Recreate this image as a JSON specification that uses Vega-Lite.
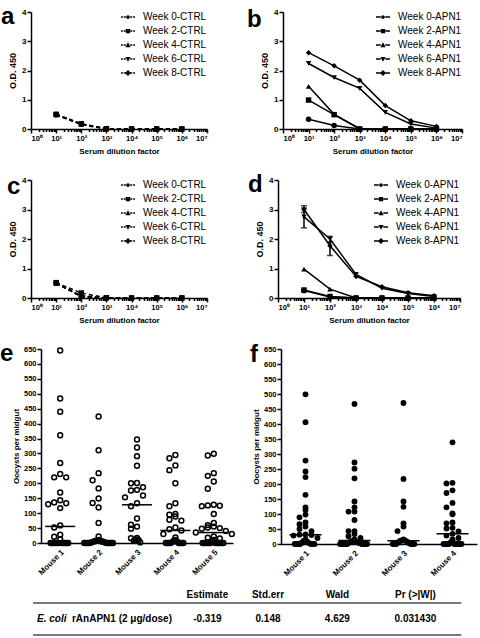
{
  "$schema": "https://vega.github.io/schema/vega-lite/v6.json",
  "padding": {"left": 0, "top": 5, "right": 0, "bottom": 0},
  "columns": 2,
  "align": "none",
  "bounds": "flush",
  "spacing": {"column": 76, "row": 51},
  "datasets": {
    "a": [
      {"week": "Week 0-CTRL", "dil": 10, "od": 0.49}, {"week": "Week 0-CTRL", "dil": 100, "od": 0.17}, {"week": "Week 0-CTRL", "dil": 1000, "od": 0.01}, {"week": "Week 0-CTRL", "dil": 10000, "od": 0}, {"week": "Week 0-CTRL", "dil": 100000, "od": 0}, {"week": "Week 0-CTRL", "dil": 1000000, "od": 0},
      {"week": "Week 2-CTRL", "dil": 10, "od": 0.5}, {"week": "Week 2-CTRL", "dil": 100, "od": 0.18}, {"week": "Week 2-CTRL", "dil": 1000, "od": 0.01}, {"week": "Week 2-CTRL", "dil": 10000, "od": 0}, {"week": "Week 2-CTRL", "dil": 100000, "od": 0}, {"week": "Week 2-CTRL", "dil": 1000000, "od": 0},
      {"week": "Week 4-CTRL", "dil": 10, "od": 0.48}, {"week": "Week 4-CTRL", "dil": 100, "od": 0.16}, {"week": "Week 4-CTRL", "dil": 1000, "od": 0}, {"week": "Week 4-CTRL", "dil": 10000, "od": 0}, {"week": "Week 4-CTRL", "dil": 100000, "od": 0}, {"week": "Week 4-CTRL", "dil": 1000000, "od": 0},
      {"week": "Week 6-CTRL", "dil": 10, "od": 0.49}, {"week": "Week 6-CTRL", "dil": 100, "od": 0.15}, {"week": "Week 6-CTRL", "dil": 1000, "od": 0}, {"week": "Week 6-CTRL", "dil": 10000, "od": 0}, {"week": "Week 6-CTRL", "dil": 100000, "od": 0}, {"week": "Week 6-CTRL", "dil": 1000000, "od": 0},
      {"week": "Week 8-CTRL", "dil": 10, "od": 0.51}, {"week": "Week 8-CTRL", "dil": 100, "od": 0.17}, {"week": "Week 8-CTRL", "dil": 1000, "od": 0.01}, {"week": "Week 8-CTRL", "dil": 10000, "od": 0}, {"week": "Week 8-CTRL", "dil": 100000, "od": 0}, {"week": "Week 8-CTRL", "dil": 1000000, "od": 0}
    ],
    "b": [
      {"week": "Week 0-APN1", "dil": 10, "od": 0.33}, {"week": "Week 0-APN1", "dil": 100, "od": 0.12}, {"week": "Week 0-APN1", "dil": 1000, "od": 0}, {"week": "Week 0-APN1", "dil": 10000, "od": 0}, {"week": "Week 0-APN1", "dil": 100000, "od": 0}, {"week": "Week 0-APN1", "dil": 1000000, "od": 0},
      {"week": "Week 2-APN1", "dil": 10, "od": 0.99}, {"week": "Week 2-APN1", "dil": 100, "od": 0.49}, {"week": "Week 2-APN1", "dil": 1000, "od": 0}, {"week": "Week 2-APN1", "dil": 10000, "od": 0}, {"week": "Week 2-APN1", "dil": 100000, "od": 0}, {"week": "Week 2-APN1", "dil": 1000000, "od": 0},
      {"week": "Week 4-APN1", "dil": 10, "od": 1.46}, {"week": "Week 4-APN1", "dil": 100, "od": 0.5}, {"week": "Week 4-APN1", "dil": 1000, "od": 0.01}, {"week": "Week 4-APN1", "dil": 10000, "od": 0}, {"week": "Week 4-APN1", "dil": 100000, "od": 0}, {"week": "Week 4-APN1", "dil": 1000000, "od": 0},
      {"week": "Week 6-APN1", "dil": 10, "od": 2.24}, {"week": "Week 6-APN1", "dil": 100, "od": 1.76}, {"week": "Week 6-APN1", "dil": 1000, "od": 1.39}, {"week": "Week 6-APN1", "dil": 10000, "od": 0.57}, {"week": "Week 6-APN1", "dil": 100000, "od": 0.17}, {"week": "Week 6-APN1", "dil": 1000000, "od": 0.03},
      {"week": "Week 8-APN1", "dil": 10, "od": 2.61}, {"week": "Week 8-APN1", "dil": 100, "od": 2.16}, {"week": "Week 8-APN1", "dil": 1000, "od": 1.67}, {"week": "Week 8-APN1", "dil": 10000, "od": 0.8}, {"week": "Week 8-APN1", "dil": 100000, "od": 0.28}, {"week": "Week 8-APN1", "dil": 1000000, "od": 0.09}
    ],
    "c": [
      {"week": "Week 0-CTRL", "dil": 10, "od": 0.5}, {"week": "Week 0-CTRL", "dil": 100, "od": 0.05}, {"week": "Week 0-CTRL", "dil": 1000, "od": 0}, {"week": "Week 0-CTRL", "dil": 10000, "od": 0}, {"week": "Week 0-CTRL", "dil": 100000, "od": 0}, {"week": "Week 0-CTRL", "dil": 1000000, "od": 0},
      {"week": "Week 2-CTRL", "dil": 10, "od": 0.52}, {"week": "Week 2-CTRL", "dil": 100, "od": 0.17}, {"week": "Week 2-CTRL", "dil": 1000, "od": 0.01}, {"week": "Week 2-CTRL", "dil": 10000, "od": 0}, {"week": "Week 2-CTRL", "dil": 100000, "od": 0}, {"week": "Week 2-CTRL", "dil": 1000000, "od": 0},
      {"week": "Week 4-CTRL", "dil": 10, "od": 0.5}, {"week": "Week 4-CTRL", "dil": 100, "od": 0.08}, {"week": "Week 4-CTRL", "dil": 1000, "od": 0}, {"week": "Week 4-CTRL", "dil": 10000, "od": 0}, {"week": "Week 4-CTRL", "dil": 100000, "od": 0}, {"week": "Week 4-CTRL", "dil": 1000000, "od": 0},
      {"week": "Week 6-CTRL", "dil": 10, "od": 0.49}, {"week": "Week 6-CTRL", "dil": 100, "od": 0.06}, {"week": "Week 6-CTRL", "dil": 1000, "od": 0}, {"week": "Week 6-CTRL", "dil": 10000, "od": 0}, {"week": "Week 6-CTRL", "dil": 100000, "od": 0}, {"week": "Week 6-CTRL", "dil": 1000000, "od": 0},
      {"week": "Week 8-CTRL", "dil": 10, "od": 0.53}, {"week": "Week 8-CTRL", "dil": 100, "od": 0.04}, {"week": "Week 8-CTRL", "dil": 1000, "od": 0}, {"week": "Week 8-CTRL", "dil": 10000, "od": 0}, {"week": "Week 8-CTRL", "dil": 100000, "od": 0}, {"week": "Week 8-CTRL", "dil": 1000000, "od": 0}
    ],
    "d": [
      {"week": "Week 0-APN1", "dil": 10, "od": 0.25}, {"week": "Week 0-APN1", "dil": 100, "od": 0.03}, {"week": "Week 0-APN1", "dil": 1000, "od": 0}, {"week": "Week 0-APN1", "dil": 10000, "od": 0}, {"week": "Week 0-APN1", "dil": 100000, "od": 0}, {"week": "Week 0-APN1", "dil": 1000000, "od": 0},
      {"week": "Week 2-APN1", "dil": 10, "od": 0.27}, {"week": "Week 2-APN1", "dil": 100, "od": 0.05}, {"week": "Week 2-APN1", "dil": 1000, "od": 0}, {"week": "Week 2-APN1", "dil": 10000, "od": 0}, {"week": "Week 2-APN1", "dil": 100000, "od": 0}, {"week": "Week 2-APN1", "dil": 1000000, "od": 0},
      {"week": "Week 4-APN1", "dil": 10, "od": 0.98}, {"week": "Week 4-APN1", "dil": 100, "od": 0.3}, {"week": "Week 4-APN1", "dil": 1000, "od": 0}, {"week": "Week 4-APN1", "dil": 10000, "od": 0}, {"week": "Week 4-APN1", "dil": 100000, "od": 0}, {"week": "Week 4-APN1", "dil": 1000000, "od": 0},
      {"week": "Week 6-APN1", "dil": 10, "od": 2.75}, {"week": "Week 6-APN1", "dil": 100, "od": 2.0}, {"week": "Week 6-APN1", "dil": 1000, "od": 0.8}, {"week": "Week 6-APN1", "dil": 10000, "od": 0.33}, {"week": "Week 6-APN1", "dil": 100000, "od": 0.15}, {"week": "Week 6-APN1", "dil": 1000000, "od": 0.05},
      {"week": "Week 8-APN1", "dil": 10, "od": 3.0}, {"week": "Week 8-APN1", "dil": 100, "od": 1.77}, {"week": "Week 8-APN1", "dil": 1000, "od": 0.73}, {"week": "Week 8-APN1", "dil": 10000, "od": 0.38}, {"week": "Week 8-APN1", "dil": 100000, "od": 0.18}, {"week": "Week 8-APN1", "dil": 1000000, "od": 0.08}
    ],
    "derr": [
      {"week": "Week 6-APN1", "dil": 10, "od": 2.38, "od2": 3.05},
      {"week": "Week 8-APN1", "dil": 10, "od": 2.9, "od2": 3.13},
      {"week": "Week 6-APN1", "dil": 100, "od": 1.9, "od2": 2.09},
      {"week": "Week 8-APN1", "dil": 100, "od": 1.44, "od2": 1.88}
    ],
    "e": [
      {"m": "Mouse 1", "v": 645}, {"m": "Mouse 1", "v": 484}, {"m": "Mouse 1", "v": 440}, {"m": "Mouse 1", "v": 361}, {"m": "Mouse 1", "v": 268}, {"m": "Mouse 1", "v": 231}, {"m": "Mouse 1", "v": 220}, {"m": "Mouse 1", "v": 220}, {"m": "Mouse 1", "v": 169}, {"m": "Mouse 1", "v": 143}, {"m": "Mouse 1", "v": 136}, {"m": "Mouse 1", "v": 133}, {"m": "Mouse 1", "v": 130}, {"m": "Mouse 1", "v": 117}, {"m": "Mouse 1", "v": 59}, {"m": "Mouse 1", "v": 52}, {"m": "Mouse 1", "v": 28}, {"m": "Mouse 1", "v": 21}, {"m": "Mouse 1", "v": 12},
      {"m": "Mouse 1", "v": 0}, {"m": "Mouse 1", "v": 0}, {"m": "Mouse 1", "v": 0}, {"m": "Mouse 1", "v": 0}, {"m": "Mouse 1", "v": 0}, {"m": "Mouse 1", "v": 0}, {"m": "Mouse 1", "v": 0}, {"m": "Mouse 1", "v": 0}, {"m": "Mouse 1", "v": 0}, {"m": "Mouse 1", "v": 0}, {"m": "Mouse 1", "v": 0},
      {"m": "Mouse 2", "v": 424}, {"m": "Mouse 2", "v": 311}, {"m": "Mouse 2", "v": 234}, {"m": "Mouse 2", "v": 210}, {"m": "Mouse 2", "v": 183}, {"m": "Mouse 2", "v": 149}, {"m": "Mouse 2", "v": 134}, {"m": "Mouse 2", "v": 119}, {"m": "Mouse 2", "v": 67}, {"m": "Mouse 2", "v": 22}, {"m": "Mouse 2", "v": 10}, {"m": "Mouse 2", "v": 8}, {"m": "Mouse 2", "v": 8}, {"m": "Mouse 2", "v": 7}, {"m": "Mouse 2", "v": 5}, {"m": "Mouse 2", "v": 5}, {"m": "Mouse 2", "v": 4}, {"m": "Mouse 2", "v": 3}, {"m": "Mouse 2", "v": 2}, {"m": "Mouse 2", "v": 1},
      {"m": "Mouse 2", "v": 0}, {"m": "Mouse 2", "v": 0}, {"m": "Mouse 2", "v": 0}, {"m": "Mouse 2", "v": 0}, {"m": "Mouse 2", "v": 0}, {"m": "Mouse 2", "v": 0}, {"m": "Mouse 2", "v": 0}, {"m": "Mouse 2", "v": 0}, {"m": "Mouse 2", "v": 0},
      {"m": "Mouse 3", "v": 347}, {"m": "Mouse 3", "v": 320}, {"m": "Mouse 3", "v": 291}, {"m": "Mouse 3", "v": 259}, {"m": "Mouse 3", "v": 201}, {"m": "Mouse 3", "v": 200}, {"m": "Mouse 3", "v": 187}, {"m": "Mouse 3", "v": 178}, {"m": "Mouse 3", "v": 176}, {"m": "Mouse 3", "v": 159}, {"m": "Mouse 3", "v": 153}, {"m": "Mouse 3", "v": 133}, {"m": "Mouse 3", "v": 123}, {"m": "Mouse 3", "v": 82}, {"m": "Mouse 3", "v": 61}, {"m": "Mouse 3", "v": 55}, {"m": "Mouse 3", "v": 48}, {"m": "Mouse 3", "v": 17}, {"m": "Mouse 3", "v": 16}, {"m": "Mouse 3", "v": 12}, {"m": "Mouse 3", "v": 10}, {"m": "Mouse 3", "v": 10}, {"m": "Mouse 3", "v": 8}, {"m": "Mouse 3", "v": 2},
      {"m": "Mouse 4", "v": 295}, {"m": "Mouse 4", "v": 284}, {"m": "Mouse 4", "v": 260}, {"m": "Mouse 4", "v": 244}, {"m": "Mouse 4", "v": 200}, {"m": "Mouse 4", "v": 133}, {"m": "Mouse 4", "v": 123}, {"m": "Mouse 4", "v": 97}, {"m": "Mouse 4", "v": 95}, {"m": "Mouse 4", "v": 89}, {"m": "Mouse 4", "v": 78}, {"m": "Mouse 4", "v": 75}, {"m": "Mouse 4", "v": 52}, {"m": "Mouse 4", "v": 46}, {"m": "Mouse 4", "v": 42}, {"m": "Mouse 4", "v": 30}, {"m": "Mouse 4", "v": 19}, {"m": "Mouse 4", "v": 10}, {"m": "Mouse 4", "v": 8}, {"m": "Mouse 4", "v": 5}, {"m": "Mouse 4", "v": 3},
      {"m": "Mouse 4", "v": 0}, {"m": "Mouse 4", "v": 0}, {"m": "Mouse 4", "v": 0}, {"m": "Mouse 4", "v": 0}, {"m": "Mouse 4", "v": 0}, {"m": "Mouse 4", "v": 0}, {"m": "Mouse 4", "v": 0}, {"m": "Mouse 4", "v": 0},
      {"m": "Mouse 5", "v": 299}, {"m": "Mouse 5", "v": 293}, {"m": "Mouse 5", "v": 234}, {"m": "Mouse 5", "v": 225}, {"m": "Mouse 5", "v": 206}, {"m": "Mouse 5", "v": 182}, {"m": "Mouse 5", "v": 128}, {"m": "Mouse 5", "v": 126}, {"m": "Mouse 5", "v": 125}, {"m": "Mouse 5", "v": 123}, {"m": "Mouse 5", "v": 97}, {"m": "Mouse 5", "v": 67}, {"m": "Mouse 5", "v": 60}, {"m": "Mouse 5", "v": 55}, {"m": "Mouse 5", "v": 52}, {"m": "Mouse 5", "v": 50}, {"m": "Mouse 5", "v": 48}, {"m": "Mouse 5", "v": 40}, {"m": "Mouse 5", "v": 35}, {"m": "Mouse 5", "v": 30}, {"m": "Mouse 5", "v": 22}, {"m": "Mouse 5", "v": 18}, {"m": "Mouse 5", "v": 15}, {"m": "Mouse 5", "v": 10}, {"m": "Mouse 5", "v": 5},
      {"m": "Mouse 5", "v": 0}, {"m": "Mouse 5", "v": 0}, {"m": "Mouse 5", "v": 0}, {"m": "Mouse 5", "v": 0}, {"m": "Mouse 5", "v": 0}, {"m": "Mouse 5", "v": 0}, {"m": "Mouse 5", "v": 0}, {"m": "Mouse 5", "v": 0}, {"m": "Mouse 5", "v": 0}, {"m": "Mouse 5", "v": 0}, {"m": "Mouse 5", "v": 0}, {"m": "Mouse 5", "v": 0}
    ],
    "f": [
      {"m": "Mouse 1", "v": 499}, {"m": "Mouse 1", "v": 406}, {"m": "Mouse 1", "v": 278}, {"m": "Mouse 1", "v": 242}, {"m": "Mouse 1", "v": 223}, {"m": "Mouse 1", "v": 164}, {"m": "Mouse 1", "v": 122}, {"m": "Mouse 1", "v": 113}, {"m": "Mouse 1", "v": 98}, {"m": "Mouse 1", "v": 89}, {"m": "Mouse 1", "v": 72}, {"m": "Mouse 1", "v": 66}, {"m": "Mouse 1", "v": 58}, {"m": "Mouse 1", "v": 50}, {"m": "Mouse 1", "v": 43}, {"m": "Mouse 1", "v": 32}, {"m": "Mouse 1", "v": 31}, {"m": "Mouse 1", "v": 30}, {"m": "Mouse 1", "v": 28}, {"m": "Mouse 1", "v": 20}, {"m": "Mouse 1", "v": 15}, {"m": "Mouse 1", "v": 12}, {"m": "Mouse 1", "v": 10}, {"m": "Mouse 1", "v": 8}, {"m": "Mouse 1", "v": 5}, {"m": "Mouse 1", "v": 3},
      {"m": "Mouse 1", "v": 0}, {"m": "Mouse 1", "v": 0}, {"m": "Mouse 1", "v": 0}, {"m": "Mouse 1", "v": 0}, {"m": "Mouse 1", "v": 0}, {"m": "Mouse 1", "v": 0}, {"m": "Mouse 1", "v": 0},
      {"m": "Mouse 2", "v": 467}, {"m": "Mouse 2", "v": 272}, {"m": "Mouse 2", "v": 251}, {"m": "Mouse 2", "v": 219}, {"m": "Mouse 2", "v": 142}, {"m": "Mouse 2", "v": 122}, {"m": "Mouse 2", "v": 108}, {"m": "Mouse 2", "v": 108}, {"m": "Mouse 2", "v": 80}, {"m": "Mouse 2", "v": 43}, {"m": "Mouse 2", "v": 43}, {"m": "Mouse 2", "v": 33}, {"m": "Mouse 2", "v": 26}, {"m": "Mouse 2", "v": 20}, {"m": "Mouse 2", "v": 15}, {"m": "Mouse 2", "v": 12}, {"m": "Mouse 2", "v": 10}, {"m": "Mouse 2", "v": 8}, {"m": "Mouse 2", "v": 8}, {"m": "Mouse 2", "v": 5}, {"m": "Mouse 2", "v": 5}, {"m": "Mouse 2", "v": 3},
      {"m": "Mouse 2", "v": 0}, {"m": "Mouse 2", "v": 0}, {"m": "Mouse 2", "v": 0}, {"m": "Mouse 2", "v": 0}, {"m": "Mouse 2", "v": 0}, {"m": "Mouse 2", "v": 0}, {"m": "Mouse 2", "v": 0}, {"m": "Mouse 2", "v": 0}, {"m": "Mouse 2", "v": 0},
      {"m": "Mouse 3", "v": 470}, {"m": "Mouse 3", "v": 217}, {"m": "Mouse 3", "v": 142}, {"m": "Mouse 3", "v": 124}, {"m": "Mouse 3", "v": 69}, {"m": "Mouse 3", "v": 58}, {"m": "Mouse 3", "v": 43}, {"m": "Mouse 3", "v": 15}, {"m": "Mouse 3", "v": 12}, {"m": "Mouse 3", "v": 12}, {"m": "Mouse 3", "v": 11}, {"m": "Mouse 3", "v": 10}, {"m": "Mouse 3", "v": 8}, {"m": "Mouse 3", "v": 5}, {"m": "Mouse 3", "v": 3},
      {"m": "Mouse 3", "v": 0}, {"m": "Mouse 3", "v": 0}, {"m": "Mouse 3", "v": 0}, {"m": "Mouse 3", "v": 0}, {"m": "Mouse 3", "v": 0}, {"m": "Mouse 3", "v": 0},
      {"m": "Mouse 4", "v": 339}, {"m": "Mouse 4", "v": 204}, {"m": "Mouse 4", "v": 202}, {"m": "Mouse 4", "v": 179}, {"m": "Mouse 4", "v": 170}, {"m": "Mouse 4", "v": 137}, {"m": "Mouse 4", "v": 122}, {"m": "Mouse 4", "v": 102}, {"m": "Mouse 4", "v": 99}, {"m": "Mouse 4", "v": 72}, {"m": "Mouse 4", "v": 69}, {"m": "Mouse 4", "v": 54}, {"m": "Mouse 4", "v": 52}, {"m": "Mouse 4", "v": 42}, {"m": "Mouse 4", "v": 34}, {"m": "Mouse 4", "v": 28}, {"m": "Mouse 4", "v": 20}, {"m": "Mouse 4", "v": 15}, {"m": "Mouse 4", "v": 10}, {"m": "Mouse 4", "v": 5},
      {"m": "Mouse 4", "v": 0}, {"m": "Mouse 4", "v": 0}, {"m": "Mouse 4", "v": 0}, {"m": "Mouse 4", "v": 0}, {"m": "Mouse 4", "v": 0}, {"m": "Mouse 4", "v": 0}, {"m": "Mouse 4", "v": 0}, {"m": "Mouse 4", "v": 0}, {"m": "Mouse 4", "v": 0}
    ],
    "tbl": [
      {"kind": "text", "row": "header", "col": "Estimate", "text": "Estimate"},
      {"kind": "text", "row": "header", "col": "Std.err", "text": "Std.err"},
      {"kind": "text", "row": "header", "col": "Wald", "text": "Wald"},
      {"kind": "text", "row": "header", "col": "Pr", "text": "Pr (>|W|)"},
      {"kind": "italic", "row": "data", "col": "label", "text": "E. coli"},
      {"kind": "label", "row": "data", "col": "label", "text": "rAnAPN1 (2 μg/dose)"},
      {"kind": "text", "row": "data", "col": "Estimate", "text": "-0.319"},
      {"kind": "text", "row": "data", "col": "Std.err", "text": "0.148"},
      {"kind": "text", "row": "data", "col": "Wald", "text": "4.629"},
      {"kind": "text", "row": "data", "col": "Pr", "text": "0.031430"},
      {"kind": "rule", "row": "line1"},
      {"kind": "rule", "row": "line2"}
    ]
  },
  "concat": [
    {
      "width": 176, "height": 117,
      "title": {"text": "a", "dx": -30, "dy": 25},
      "data": {"name": "a"},
      "encoding": {
        "x": {"field": "dil", "type": "quantitative", "scale": {"type": "log", "domain": [1, 10000000], "nice": false},
          "axis": {"values": [1,2,3,4,5,6,7,8,9,10,20,30,40,50,60,70,80,90,100,200,300,400,500,600,700,800,900,1000,2000,3000,4000,5000,6000,7000,8000,9000,10000,20000,30000,40000,50000,60000,70000,80000,90000,100000,200000,300000,400000,500000,600000,700000,800000,900000,1000000,2000000,3000000,4000000,5000000,6000000,7000000,8000000,9000000,10000000],
            "labelExpr": "indexof([1,10,100,1000,10000,100000,1000000,10000000], datum.value) >= 0 ? '10' + ['⁰','¹','²','³','⁴','⁵','⁶','⁷'][indexof([1,10,100,1000,10000,100000,1000000,10000000], datum.value)] : ''",
            "labelOverlap": false, "labelFontSize": 7.5, "labelPadding": 1,
            "tickSize": {"condition": {"test": "indexof([1,10,100,1000,10000,100000,1000000,10000000], datum.value) >= 0", "value": 4}, "value": 2.5},
            "title": "Serum dilution factor", "titleFontSize": 8, "titlePadding": 6}},
        "y": {"field": "od", "type": "quantitative", "scale": {"domain": [0, 4], "nice": false},
          "axis": {"values": [0, 1, 2, 3, 4], "title": "O.D. 450", "titleFontSize": 9, "labelFontSize": 8, "tickSize": 4, "labelPadding": 1, "titlePadding": 4}}
      },
      "layer": [
        {"mark": {"type": "line", "color": "black", "strokeWidth": 1.5, "strokeDash": [4, 3]}, "encoding": {"detail": {"field": "week"}}},
        {"mark": {"type": "point", "filled": true, "color": "black", "size": 30, "opacity": 1},
          "encoding": {"shape": {"field": "week", "scale": {"domain": ["Week 0-CTRL", "Week 2-CTRL", "Week 4-CTRL", "Week 6-CTRL", "Week 8-CTRL"], "range": ["circle", "square", "triangle-up", "triangle-down", "diamond"]}, "legend": null}}},
        {"transform": [{"filter": "false"}], "mark": {"type": "point", "filled": true, "color": "black", "size": 25, "opacity": 1},
          "encoding": {"shape": {"field": "week", "scale": {"domain": ["Week 0-CTRL", "Week 2-CTRL", "Week 4-CTRL", "Week 6-CTRL", "Week 8-CTRL"],
            "range": [
              "M-2.8,-0.3H-2.1V0.3H-2.8Z M-1.7,-0.3H-0.9V0.3H-1.7Z M0.9,-0.3H1.7V0.3H0.9Z M2.1,-0.3H2.8V0.3H2.1Z M-0.75,0A0.75,0.75,0,1,0,0.75,0A0.75,0.75,0,1,0,-0.75,0Z",
              "M-2.8,-0.3H-2.1V0.3H-2.8Z M-1.7,-0.3H-0.9V0.3H-1.7Z M0.9,-0.3H1.7V0.3H0.9Z M2.1,-0.3H2.8V0.3H2.1Z M-0.85,-0.85H0.85V0.85H-0.85Z",
              "M-2.8,-0.3H-2.1V0.3H-2.8Z M-1.7,-0.3H-0.9V0.3H-1.7Z M0.9,-0.3H1.7V0.3H0.9Z M2.1,-0.3H2.8V0.3H2.1Z M0,-1.1L1.05,0.85H-1.05Z",
              "M-2.8,-0.3H-2.1V0.3H-2.8Z M-1.7,-0.3H-0.9V0.3H-1.7Z M0.9,-0.3H1.7V0.3H0.9Z M2.1,-0.3H2.8V0.3H2.1Z M0,1.1L-1.05,-0.85H1.05Z",
              "M-2.8,-0.3H-2.1V0.3H-2.8Z M-1.7,-0.3H-0.9V0.3H-1.7Z M0.9,-0.3H1.7V0.3H0.9Z M2.1,-0.3H2.8V0.3H2.1Z M0,-1.2L1.2,0L0,1.2L-1.2,0Z"
            ]}, "legend": {"title": null}}}}
      ],
      "resolve": {"scale": {"shape": "independent"}}
    },
    {
      "width": 179, "height": 117,
      "title": {"text": "b", "dx": -36, "dy": 28},
      "data": {"name": "b"},
      "encoding": {
        "x": {"field": "dil", "type": "quantitative", "scale": {"type": "log", "domain": [1, 10000000], "nice": false},
          "axis": {"values": [1,2,3,4,5,6,7,8,9,10,20,30,40,50,60,70,80,90,100,200,300,400,500,600,700,800,900,1000,2000,3000,4000,5000,6000,7000,8000,9000,10000,20000,30000,40000,50000,60000,70000,80000,90000,100000,200000,300000,400000,500000,600000,700000,800000,900000,1000000,2000000,3000000,4000000,5000000,6000000,7000000,8000000,9000000,10000000],
            "labelExpr": "indexof([1,10,100,1000,10000,100000,1000000,10000000], datum.value) >= 0 ? '10' + ['⁰','¹','²','³','⁴','⁵','⁶','⁷'][indexof([1,10,100,1000,10000,100000,1000000,10000000], datum.value)] : ''",
            "labelOverlap": false, "labelFontSize": 7.5, "labelPadding": 1,
            "tickSize": {"condition": {"test": "indexof([1,10,100,1000,10000,100000,1000000,10000000], datum.value) >= 0", "value": 4}, "value": 2.5},
            "title": "Serum dilution factor", "titleFontSize": 8, "titlePadding": 6}},
        "y": {"field": "od", "type": "quantitative", "scale": {"domain": [0, 4], "nice": false},
          "axis": {"values": [0, 1, 2, 3, 4], "title": "O.D. 450", "titleFontSize": 9, "labelFontSize": 8, "tickSize": 4, "labelPadding": 1, "titlePadding": 4}}
      },
      "layer": [
        {"mark": {"type": "line", "color": "black", "strokeWidth": 1.5}, "encoding": {"detail": {"field": "week"}}},
        {"mark": {"type": "point", "filled": true, "color": "black", "size": 30, "opacity": 1},
          "encoding": {"shape": {"field": "week", "scale": {"domain": ["Week 0-APN1", "Week 2-APN1", "Week 4-APN1", "Week 6-APN1", "Week 8-APN1"], "range": ["circle", "square", "triangle-up", "triangle-down", "diamond"]}, "legend": null}}},
        {"transform": [{"filter": "false"}], "mark": {"type": "point", "filled": true, "color": "black", "size": 25, "opacity": 1},
          "encoding": {"shape": {"field": "week", "scale": {"domain": ["Week 0-APN1", "Week 2-APN1", "Week 4-APN1", "Week 6-APN1", "Week 8-APN1"],
            "range": [
              "M-2.8,-0.3H-0.9V0.3H-2.8Z M0.9,-0.3H2.8V0.3H0.9Z M-0.75,0A0.75,0.75,0,1,0,0.75,0A0.75,0.75,0,1,0,-0.75,0Z",
              "M-2.8,-0.3H-0.9V0.3H-2.8Z M0.9,-0.3H2.8V0.3H0.9Z M-0.85,-0.85H0.85V0.85H-0.85Z",
              "M-2.8,-0.3H-0.9V0.3H-2.8Z M0.9,-0.3H2.8V0.3H0.9Z M0,-1.1L1.05,0.85H-1.05Z",
              "M-2.8,-0.3H-0.9V0.3H-2.8Z M0.9,-0.3H2.8V0.3H0.9Z M0,1.1L-1.05,-0.85H1.05Z",
              "M-2.8,-0.3H-0.9V0.3H-2.8Z M0.9,-0.3H2.8V0.3H0.9Z M0,-1.2L1.2,0L0,1.2L-1.2,0Z"
            ]}, "legend": {"title": null}}}}
      ],
      "resolve": {"scale": {"shape": "independent"}}
    },
    {
      "width": 176, "height": 118,
      "title": {"text": "c", "dx": -24, "dy": 27},
      "data": {"name": "c"},
      "encoding": {
        "x": {"field": "dil", "type": "quantitative", "scale": {"type": "log", "domain": [1, 10000000], "nice": false},
          "axis": {"values": [1,2,3,4,5,6,7,8,9,10,20,30,40,50,60,70,80,90,100,200,300,400,500,600,700,800,900,1000,2000,3000,4000,5000,6000,7000,8000,9000,10000,20000,30000,40000,50000,60000,70000,80000,90000,100000,200000,300000,400000,500000,600000,700000,800000,900000,1000000,2000000,3000000,4000000,5000000,6000000,7000000,8000000,9000000,10000000],
            "labelExpr": "indexof([1,10,100,1000,10000,100000,1000000,10000000], datum.value) >= 0 ? '10' + ['⁰','¹','²','³','⁴','⁵','⁶','⁷'][indexof([1,10,100,1000,10000,100000,1000000,10000000], datum.value)] : ''",
            "labelOverlap": false, "labelFontSize": 7.5, "labelPadding": 1,
            "tickSize": {"condition": {"test": "indexof([1,10,100,1000,10000,100000,1000000,10000000], datum.value) >= 0", "value": 4}, "value": 2.5},
            "title": "Serum dilution factor", "titleFontSize": 8, "titlePadding": 6}},
        "y": {"field": "od", "type": "quantitative", "scale": {"domain": [0, 4], "nice": false},
          "axis": {"values": [0, 1, 2, 3, 4], "title": "O.D. 450", "titleFontSize": 9, "labelFontSize": 8, "tickSize": 4, "labelPadding": 1, "titlePadding": 4}}
      },
      "layer": [
        {"mark": {"type": "line", "color": "black", "strokeWidth": 1.5, "strokeDash": [4, 3]}, "encoding": {"detail": {"field": "week"}}},
        {"mark": {"type": "point", "filled": true, "color": "black", "size": 30, "opacity": 1},
          "encoding": {"shape": {"field": "week", "scale": {"domain": ["Week 0-CTRL", "Week 2-CTRL", "Week 4-CTRL", "Week 6-CTRL", "Week 8-CTRL"], "range": ["circle", "square", "triangle-up", "triangle-down", "diamond"]}, "legend": null}}},
        {"transform": [{"filter": "false"}], "mark": {"type": "point", "filled": true, "color": "black", "size": 25, "opacity": 1},
          "encoding": {"shape": {"field": "week", "scale": {"domain": ["Week 0-CTRL", "Week 2-CTRL", "Week 4-CTRL", "Week 6-CTRL", "Week 8-CTRL"],
            "range": [
              "M-2.8,-0.3H-2.1V0.3H-2.8Z M-1.7,-0.3H-0.9V0.3H-1.7Z M0.9,-0.3H1.7V0.3H0.9Z M2.1,-0.3H2.8V0.3H2.1Z M-0.75,0A0.75,0.75,0,1,0,0.75,0A0.75,0.75,0,1,0,-0.75,0Z",
              "M-2.8,-0.3H-2.1V0.3H-2.8Z M-1.7,-0.3H-0.9V0.3H-1.7Z M0.9,-0.3H1.7V0.3H0.9Z M2.1,-0.3H2.8V0.3H2.1Z M-0.85,-0.85H0.85V0.85H-0.85Z",
              "M-2.8,-0.3H-2.1V0.3H-2.8Z M-1.7,-0.3H-0.9V0.3H-1.7Z M0.9,-0.3H1.7V0.3H0.9Z M2.1,-0.3H2.8V0.3H2.1Z M0,-1.1L1.05,0.85H-1.05Z",
              "M-2.8,-0.3H-2.1V0.3H-2.8Z M-1.7,-0.3H-0.9V0.3H-1.7Z M0.9,-0.3H1.7V0.3H0.9Z M2.1,-0.3H2.8V0.3H2.1Z M0,1.1L-1.05,-0.85H1.05Z",
              "M-2.8,-0.3H-2.1V0.3H-2.8Z M-1.7,-0.3H-0.9V0.3H-1.7Z M0.9,-0.3H1.7V0.3H0.9Z M2.1,-0.3H2.8V0.3H2.1Z M0,-1.2L1.2,0L0,1.2L-1.2,0Z"
            ]}, "legend": {"title": null}}}}
      ],
      "resolve": {"scale": {"shape": "independent"}}
    },
    {
      "width": 177, "height": 118,
      "title": {"text": "d", "dx": -35, "dy": 25},
      "data": {"name": "d"},
      "encoding": {
        "x": {"field": "dil", "type": "quantitative", "scale": {"type": "log", "domain": [1, 10000000], "nice": false, "range": [-5, 177]},
          "axis": {"values": [1,2,3,4,5,6,7,8,9,10,20,30,40,50,60,70,80,90,100,200,300,400,500,600,700,800,900,1000,2000,3000,4000,5000,6000,7000,8000,9000,10000,20000,30000,40000,50000,60000,70000,80000,90000,100000,200000,300000,400000,500000,600000,700000,800000,900000,1000000,2000000,3000000,4000000,5000000,6000000,7000000,8000000,9000000,10000000],
            "labelExpr": "indexof([1,10,100,1000,10000,100000,1000000,10000000], datum.value) >= 0 ? '10' + ['⁰','¹','²','³','⁴','⁵','⁶','⁷'][indexof([1,10,100,1000,10000,100000,1000000,10000000], datum.value)] : ''",
            "labelOverlap": false, "labelFontSize": 7.5, "labelPadding": 1,
            "tickSize": {"condition": {"test": "indexof([1,10,100,1000,10000,100000,1000000,10000000], datum.value) >= 0", "value": 4}, "value": 2.5},
            "title": "Serum dilution factor", "titleFontSize": 8, "titlePadding": 6}},
        "y": {"field": "od", "type": "quantitative", "scale": {"domain": [0, 4], "nice": false},
          "axis": {"values": [0, 1, 2, 3, 4], "title": "O.D. 450", "titleFontSize": 9, "labelFontSize": 8, "tickSize": 4, "labelPadding": 1, "titlePadding": 4, "offset": 5}}
      },
      "layer": [
        {"data": {"name": "derr"}, "mark": {"type": "errorbar", "color": "black", "thickness": 1.5, "ticks": {"size": 6, "thickness": 1.5, "color": "black"}},
          "encoding": {"y2": {"field": "od2"}}},
        {"mark": {"type": "line", "color": "black", "strokeWidth": 1.5}, "encoding": {"detail": {"field": "week"}}},
        {"mark": {"type": "point", "filled": true, "color": "black", "size": 30, "opacity": 1},
          "encoding": {"shape": {"field": "week", "scale": {"domain": ["Week 0-APN1", "Week 2-APN1", "Week 4-APN1", "Week 6-APN1", "Week 8-APN1"], "range": ["circle", "square", "triangle-up", "triangle-down", "diamond"]}, "legend": null}}},
        {"transform": [{"filter": "false"}], "mark": {"type": "point", "filled": true, "color": "black", "size": 25, "opacity": 1},
          "encoding": {"shape": {"field": "week", "scale": {"domain": ["Week 0-APN1", "Week 2-APN1", "Week 4-APN1", "Week 6-APN1", "Week 8-APN1"],
            "range": [
              "M-2.8,-0.3H-0.9V0.3H-2.8Z M0.9,-0.3H2.8V0.3H0.9Z M-0.75,0A0.75,0.75,0,1,0,0.75,0A0.75,0.75,0,1,0,-0.75,0Z",
              "M-2.8,-0.3H-0.9V0.3H-2.8Z M0.9,-0.3H2.8V0.3H0.9Z M-0.85,-0.85H0.85V0.85H-0.85Z",
              "M-2.8,-0.3H-0.9V0.3H-2.8Z M0.9,-0.3H2.8V0.3H0.9Z M0,-1.1L1.05,0.85H-1.05Z",
              "M-2.8,-0.3H-0.9V0.3H-2.8Z M0.9,-0.3H2.8V0.3H0.9Z M0,1.1L-1.05,-0.85H1.05Z",
              "M-2.8,-0.3H-0.9V0.3H-2.8Z M0.9,-0.3H2.8V0.3H0.9Z M0,-1.2L1.2,0L0,1.2L-1.2,0Z"
            ]}, "legend": {"title": null}}}}
      ],
      "resolve": {"scale": {"shape": "independent"}}
    },
    {
      "width": 176, "height": 194,
      "title": {"text": "e", "dx": -31, "dy": 25},
      "data": {"name": "e"},
      "encoding": {
        "x": {"field": "m", "type": "nominal", "scale": {"type": "band", "range": [10, 202], "paddingInner": 0, "paddingOuter": 0},
          "axis": {"title": null, "labelAngle": -45, "ticks": false, "labelFontSize": 8, "labelPadding": 5}},
        "y": {"field": "v", "type": "quantitative", "scale": {"domain": [0, 650], "nice": false},
          "axis": {"values": [0,50,100,150,200,250,300,350,400,450,500,550,600,650], "title": "Oocysts per midgut", "titleFontSize": 8, "labelFontSize": 7.5, "tickSize": 4, "labelPadding": 1, "titlePadding": 3, "offset": -10}}
      },
      "layer": [
        {"transform": [{"filter": "datum.v < 15"}, {"window": [{"op": "row_number", "as": "rn"}], "groupby": ["m"], "sort": [{"field": "v", "order": "descending"}]}],
          "mark": {"type": "point", "shape": "circle", "size": 24, "strokeWidth": 1.5, "color": "black", "filled": false, "opacity": 1},
          "encoding": {"xOffset": {"field": "rn", "type": "ordinal", "scale": {"type": "point", "domain": [18,16,14,12,10,8,6,4,2,1,3,5,7,9,11,13,15,17,19], "range": [4.8, 33.6], "padding": 0}}}},
        {"transform": [{"filter": "datum.v >= 15"}, {"bin": {"step": 30}, "field": "v", "as": "vb"}, {"window": [{"op": "row_number", "as": "rn"}], "groupby": ["m", "vb"], "sort": [{"field": "v", "order": "descending"}]}],
          "mark": {"type": "point", "shape": "circle", "size": 24, "strokeWidth": 1.5, "color": "black", "filled": false, "opacity": 1},
          "encoding": {"xOffset": {"field": "rn", "type": "ordinal", "scale": {"type": "point", "domain": [8,6,4,2,1,3,5,7,9], "range": [-4.8, 43.2], "padding": 0}}}},
        {"mark": {"type": "tick", "orient": "horizontal", "size": 30, "thickness": 1.5, "color": "black", "opacity": 1},
          "encoding": {"y": {"aggregate": "median", "field": "v", "type": "quantitative"}}}
      ],
      "resolve": {"scale": {"xOffset": "independent"}}
    },
    {
      "width": 194, "height": 195,
      "title": {"text": "f", "dx": -33, "dy": 26},
      "data": {"name": "f"},
      "encoding": {
        "x": {"field": "m", "type": "nominal", "scale": {"type": "band", "range": [-2, 194], "paddingInner": 0, "paddingOuter": 0},
          "axis": {"title": null, "labelAngle": -45, "ticks": false, "labelFontSize": 8, "labelPadding": 5}},
        "y": {"field": "v", "type": "quantitative", "scale": {"domain": [0, 650], "nice": false},
          "axis": {"values": [0,50,100,150,200,250,300,350,400,450,500,550,600,650], "title": "Oocysts per midgut", "titleFontSize": 8, "labelFontSize": 7.5, "tickSize": 4, "labelPadding": 1, "titlePadding": 3, "offset": 2}}
      },
      "layer": [
        {"transform": [{"filter": "datum.v < 15"}, {"window": [{"op": "row_number", "as": "rn"}], "groupby": ["m"], "sort": [{"field": "v", "order": "descending"}]}],
          "mark": {"type": "point", "shape": "circle", "size": 34, "color": "black", "filled": true, "opacity": 1},
          "encoding": {"xOffset": {"field": "rn", "type": "ordinal", "scale": {"type": "point", "domain": [18,16,14,12,10,8,6,4,2,1,3,5,7,9,11,13,15,17,19], "range": [8.3, 40.7], "padding": 0}}}},
        {"transform": [{"filter": "datum.v >= 15"}, {"bin": {"step": 20}, "field": "v", "as": "vb"}, {"window": [{"op": "row_number", "as": "rn"}], "groupby": ["m", "vb"], "sort": [{"field": "v", "order": "descending"}]}],
          "mark": {"type": "point", "shape": "circle", "size": 34, "color": "black", "filled": true, "opacity": 1},
          "encoding": {"xOffset": {"field": "rn", "type": "ordinal", "scale": {"type": "point", "domain": [8,6,4,2,1,3,5,7,9], "range": [0.5, 48.5], "padding": 0}}}},
        {"mark": {"type": "tick", "orient": "horizontal", "size": 32, "thickness": 1.5, "color": "black", "opacity": 1},
          "encoding": {"y": {"aggregate": "median", "field": "v", "type": "quantitative"}}}
      ],
      "resolve": {"scale": {"xOffset": "independent"}}
    },
    {
      "width": 176, "height": 40,
      "data": {"name": "tbl"},
      "encoding": {
        "x": {"field": "col", "type": "nominal", "scale": {"type": "point", "domain": ["label","s1","s2","s3","s4","s5","s6","s7","Estimate","s8","s9","s10","s11","s12","s13","Std.err","s14","s15","s16","s17","s18","s19","s20","Wald","s21","s22","s23","s24","s25","s26","s27","s28","Pr"], "range": [107, 384.4], "padding": 0}, "axis": null},
        "y": {"field": "row", "type": "nominal", "scale": {"type": "point", "domain": ["header", "line1", "s1", "data", "s2", "line2"], "range": [0, 40], "padding": 0}, "axis": null}
      },
      "layer": [
        {"transform": [{"filter": "datum.kind == 'rule'"}],
          "mark": {"type": "rule", "color": "#7a7a7a", "strokeWidth": 2, "xOffset": -105, "x2Offset": 46},
          "encoding": {"x": {"datum": "label", "type": "nominal"}, "x2": {"datum": "Pr"}}},
        {"transform": [{"filter": "datum.kind == 'text'"}],
          "mark": {"type": "text", "fontWeight": "bold", "fontSize": 10, "color": "black", "baseline": "middle", "font": "Liberation Sans"},
          "encoding": {"text": {"field": "text"}}},
        {"transform": [{"filter": "datum.kind == 'italic'"}],
          "mark": {"type": "text", "fontWeight": "bold", "fontStyle": "italic", "fontSize": 10, "color": "black", "baseline": "middle", "align": "left", "dx": -101, "font": "Liberation Sans"},
          "encoding": {"text": {"field": "text"}}},
        {"transform": [{"filter": "datum.kind == 'label'"}],
          "mark": {"type": "text", "fontWeight": "bold", "fontSize": 10, "color": "black", "baseline": "middle", "align": "right", "dx": 34, "font": "Liberation Sans"},
          "encoding": {"text": {"field": "text"}}}
      ]
    }
  ],
  "config": {
    "font": "Liberation Sans",
    "view": {"stroke": null},
    "axis": {"domainColor": "black", "tickColor": "black", "labelColor": "black", "titleColor": "black", "labelFontWeight": "bold", "titleFontWeight": "bold", "domainWidth": 1.5, "tickWidth": 1.5, "grid": false, "labelFont": "Liberation Sans", "titleFont": "Liberation Sans"},
    "legend": {"orient": "top-right", "offset": 0, "padding": 0, "labelFontSize": 10, "labelFont": "Liberation Sans", "labelColor": "black", "rowPadding": 4, "labelOffset": 10, "symbolFillColor": "black", "symbolStrokeColor": "black", "symbolStrokeWidth": 0, "symbolSize": 25},
    "title": {"anchor": "start", "frame": "group", "fontSize": 24, "fontWeight": "bold", "font": "Liberation Sans", "offset": 0, "baseline": "alphabetic", "color": "black"}
  }
}
